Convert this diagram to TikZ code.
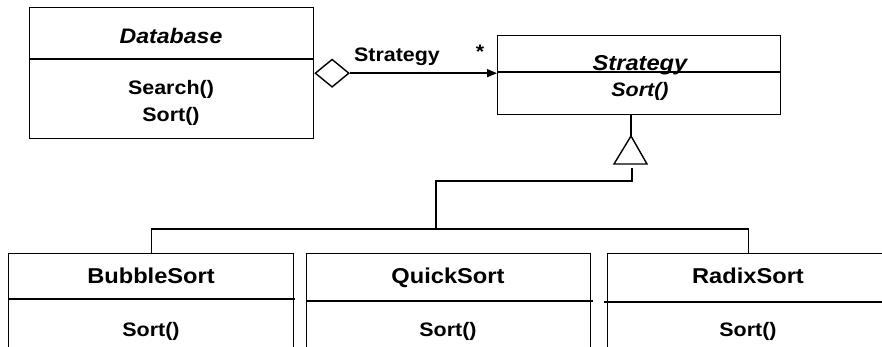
\documentclass[tikz,border=0pt]{standalone}
\usepackage{fontspec}
\setmainfont{Liberation Sans}[FakeStretch=1.1]
\usetikzlibrary{arrows.meta,shapes.geometric}
\begin{document}
\begin{tikzpicture}[x=1pt,y=-1pt,line width=1.4pt,
  box/.style={draw,rectangle,inner sep=0pt,anchor=north west},
  txt/.style={anchor=base,inner sep=0pt,font=\bfseries\fontsize{19.5}{22}\selectfont},
  ttl/.style={anchor=base,inner sep=0pt,font=\bfseries\fontsize{21.5}{25}\selectfont},
  ittl/.style={anchor=base,inner sep=0pt,font=\bfseries\itshape\fontsize{21}{25}\selectfont},
  itxt/.style={anchor=base,inner sep=0pt,font=\bfseries\itshape\fontsize{19.5}{22}\selectfont}]
\useasboundingbox (0,0) rectangle (882,347);
\clip (0,0) rectangle (882,347);
% Database class
\node[box,minimum width=284pt,minimum height=131pt] (db) at (29,7) {};
\draw (29,59) -- (313,59);
\node[ittl] (dbn) at (171,44) {Database};
\node[txt] (dbm1) at (171,94.5) {Search()};
\node[txt] (dbm2) at (171,122) {Sort()};
% Strategy class
\node[box,minimum width=283pt,minimum height=79pt] (st) at (497,35) {};
\draw (497,72) -- (780,72);
\node[ittl,font=\bfseries\itshape\fontsize{21.5}{25}\selectfont] (stn) at (640,71) {Strategy};
\node[itxt] (stm) at (640,97) {Sort()};
% aggregation
\node[draw,diamond,minimum width=34pt,minimum height=28pt,inner sep=0pt,anchor=west,fill=white] (dia) at (db.east) {};
\draw[-{Triangle[length=10pt,width=8pt]}] (dia.east) -- (dia.east -| st.west);
\node[txt] (lab) at (397,62) {Strategy};
\node[txt] (star) at (480,58.5) {*};
% inheritance
\coordinate (apex) at (631,136);
\draw (apex) -- (614,164) -- (647,164) -- cycle;
\draw (apex |- st.south) -- (apex);
\coordinate (j1) at (632,168);
\coordinate (j2) at (632,181);
\coordinate (j3) at (436,181);
\coordinate (j4) at (436,229);
\draw (j1) -- (j2) -- (j3) -- (j4);
% subclasses
\node[box,minimum width=285pt,minimum height=120pt] (bb) at (8,253) {};
\node[box,minimum width=284pt,minimum height=120pt] (qs) at (306,253) {};
\node[box,minimum width=282pt,minimum height=120pt] (rs) at (607,253) {};
\draw (bb.north) -- (bb.north |- j4) -- (rs.north |- j4) -- (rs.north);
\draw (8,299) -- (295,299);
\draw (306,301) -- (593,301);
\draw (604,302) -- (882,302);
\node[ttl] (bbn) at (151,283) {BubbleSort};
\node[txt] (bbm) at (151,336) {Sort()};
\node[ttl] (qsn) at (448,283) {QuickSort};
\node[txt] (qsm) at (448,336) {Sort()};
\node[ttl] (rsn) at (748,283) {RadixSort};
\node[txt] (rsm) at (748,336) {Sort()};
\end{tikzpicture}
\end{document}
